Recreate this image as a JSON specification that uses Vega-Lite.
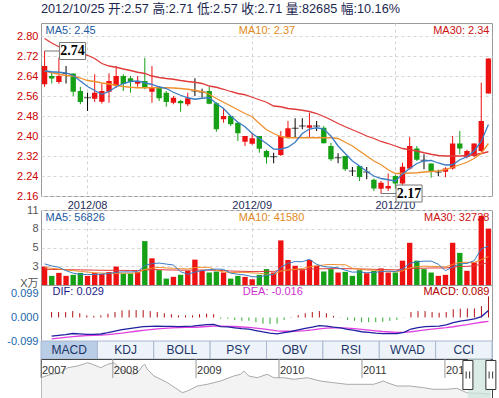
{
"$schema":"https://vega.github.io/schema/vega-lite/v6.json",
"padding":{"left":6,"top":2,"right":0,"bottom":0},
"background":"white",
"config":{"font":"Liberation Sans","view":{"stroke":"#9a9a9a"},"axis":{"ticks":false,"domain":false,"title":null,"labelOverlap":false,"labelBound":false,"gridColor":"#d4d4d4","gridDash":[3,3],"labelFont":"Liberation Sans","labelFontSize":11}},
"datasets":{
"k":[
{"d":"2012-07-24","o":2.607,"h":2.74,"l":2.597,"c":2.68,"dir":"up","v":2.70,"ma5":2.66,"ma10":2.66,"ma30":2.79,"vma5":3.1,"vma10":2.55,"vma30":2.3,"dif":-0.0785,"dea":-0.090,"m":0.023},
{"d":"2012-07-25","o":2.64,"h":2.653,"l":2.61,"c":2.63,"dir":"down","v":1.34,"ma5":2.657,"ma10":2.653,"ma30":2.772,"vma5":2.8,"vma10":2.45,"vma30":2.28,"dif":-0.0755,"dea":-0.087,"m":0.023},
{"d":"2012-07-26","o":2.616,"h":2.713,"l":2.609,"c":2.64,"dir":"up","v":1.78,"ma5":2.655,"ma10":2.647,"ma30":2.757,"vma5":2.6,"vma10":2.35,"vma30":2.27,"dif":-0.0725,"dea":-0.084,"m":0.023},
{"d":"2012-07-27","o":2.65,"h":2.68,"l":2.61,"c":2.65,"dir":"up","v":1.34,"ma5":2.652,"ma10":2.642,"ma30":2.745,"vma5":2.1,"vma10":2.2,"vma30":2.25,"dif":-0.0675,"dea":-0.081,"m":0.027},
{"d":"2012-07-30","o":2.65,"h":2.65,"l":2.56,"c":2.577,"dir":"down","v":1.49,"ma5":2.642,"ma10":2.64,"ma30":2.737,"vma5":1.73,"vma10":2.1,"vma30":2.23,"dif":-0.069,"dea":-0.078,"m":0.018},
{"d":"2012-07-31","o":2.58,"h":2.597,"l":2.527,"c":2.536,"dir":"down","v":1.78,"ma5":2.62,"ma10":2.632,"ma30":2.73,"vma5":1.55,"vma10":2.0,"vma30":2.22,"dif":-0.0715,"dea":-0.076,"m":0.009},
{"d":"2012-08-01","o":2.553,"h":2.573,"l":2.50,"c":2.553,"dir":"up","v":1.34,"ma5":2.598,"ma10":2.622,"ma30":2.723,"vma5":1.55,"vma10":1.9,"vma30":2.2,"dif":-0.0715,"dea":-0.075,"m":0.007},
{"d":"2012-08-02","o":2.549,"h":2.647,"l":2.536,"c":2.573,"dir":"up","v":1.75,"ma5":2.582,"ma10":2.618,"ma30":2.71,"vma5":1.54,"vma10":1.8,"vma30":2.18,"dif":-0.0695,"dea":-0.074,"m":0.009},
{"d":"2012-08-03","o":2.537,"h":2.61,"l":2.53,"c":2.58,"dir":"up","v":1.63,"ma5":2.567,"ma10":2.612,"ma30":2.69,"vma5":1.60,"vma10":1.75,"vma30":2.16,"dif":-0.064,"dea":-0.072,"m":0.016},
{"d":"2012-08-06","o":2.577,"h":2.651,"l":2.533,"c":2.62,"dir":"up","v":1.9,"ma5":2.578,"ma10":2.608,"ma30":2.68,"vma5":1.68,"vma10":1.71,"vma30":2.15,"dif":-0.0575,"dea":-0.069,"m":0.023},
{"d":"2012-08-07","o":2.60,"h":2.68,"l":2.593,"c":2.64,"dir":"up","v":2.7,"ma5":2.597,"ma10":2.603,"ma30":2.675,"vma5":1.86,"vma10":1.71,"vma30":2.15,"dif":-0.051,"dea":-0.066,"m":0.030},
{"d":"2012-08-08","o":2.64,"h":2.647,"l":2.58,"c":2.608,"dir":"down","v":1.68,"ma5":2.61,"ma10":2.598,"ma30":2.668,"vma5":1.93,"vma10":1.74,"vma30":2.14,"dif":-0.0465,"dea":-0.062,"m":0.031},
{"d":"2012-08-09","o":2.631,"h":2.64,"l":2.573,"c":2.617,"dir":"down","v":1.68,"ma5":2.618,"ma10":2.595,"ma30":2.662,"vma5":1.92,"vma10":1.73,"vma30":2.13,"dif":-0.0425,"dea":-0.058,"m":0.031},
{"d":"2012-08-10","o":2.609,"h":2.64,"l":2.597,"c":2.62,"dir":"up","v":1.9,"ma5":2.62,"ma10":2.593,"ma30":2.655,"vma5":1.97,"vma10":1.79,"vma30":2.12,"dif":-0.0385,"dea":-0.054,"m":0.031},
{"d":"2012-08-13","o":2.62,"h":2.713,"l":2.587,"c":2.593,"dir":"down","v":6.44,"ma5":2.613,"ma10":2.593,"ma30":2.65,"vma5":2.88,"vma10":2.28,"vma30":2.2,"dif":-0.0375,"dea":-0.051,"m":0.027},
{"d":"2012-08-14","o":2.577,"h":2.68,"l":2.533,"c":2.593,"dir":"up","v":3.91,"ma5":2.606,"ma10":2.593,"ma30":2.64,"vma5":3.12,"vma10":2.49,"vma30":2.25,"dif":-0.0365,"dea":-0.048,"m":0.023},
{"d":"2012-08-15","o":2.593,"h":2.60,"l":2.54,"c":2.551,"dir":"down","v":2.18,"ma5":2.597,"ma10":2.593,"ma30":2.634,"vma5":3.22,"vma10":2.58,"vma30":2.25,"dif":-0.037,"dea":-0.046,"m":0.018},
{"d":"2012-08-16","o":2.573,"h":2.58,"l":2.517,"c":2.536,"dir":"down","v":0.94,"ma5":2.59,"ma10":2.593,"ma30":2.63,"vma5":3.07,"vma10":2.50,"vma30":2.22,"dif":-0.037,"dea":-0.044,"m":0.014},
{"d":"2012-08-17","o":2.533,"h":2.56,"l":2.527,"c":2.553,"dir":"up","v":1.2,"ma5":2.575,"ma10":2.592,"ma30":2.627,"vma5":2.93,"vma10":2.45,"vma30":2.2,"dif":-0.0385,"dea":-0.043,"m":0.009},
{"d":"2012-08-20","o":2.54,"h":2.545,"l":2.497,"c":2.531,"dir":"down","v":1.5,"ma5":2.563,"ma10":2.59,"ma30":2.622,"vma5":1.95,"vma10":2.41,"vma30":2.18,"dif":-0.0375,"dea":-0.042,"m":0.009},
{"d":"2012-08-21","o":2.527,"h":2.573,"l":2.52,"c":2.551,"dir":"up","v":2.08,"ma5":2.553,"ma10":2.587,"ma30":2.618,"vma5":1.58,"vma10":2.35,"vma30":2.17,"dif":-0.0365,"dea":-0.041,"m":0.009},
{"d":"2012-08-22","o":2.58,"h":2.631,"l":2.56,"c":2.58,"dir":"up","v":3.72,"ma5":2.547,"ma10":2.583,"ma30":2.615,"vma5":1.89,"vma10":2.56,"vma30":2.2,"dif":-0.033,"dea":-0.040,"m":0.014},
{"d":"2012-08-23","o":2.576,"h":2.589,"l":2.553,"c":2.576,"dir":"up","v":2.08,"ma5":2.551,"ma10":2.577,"ma30":2.61,"vma5":2.12,"vma10":2.60,"vma30":2.2,"dif":-0.030,"dea":-0.038,"m":0.016},
{"d":"2012-08-24","o":2.58,"h":2.597,"l":2.527,"c":2.529,"dir":"down","v":1.83,"ma5":2.553,"ma10":2.567,"ma30":2.60,"vma5":2.24,"vma10":2.59,"vma30":2.18,"dif":-0.029,"dea":-0.036,"m":0.014},
{"d":"2012-08-27","o":2.531,"h":2.535,"l":2.417,"c":2.427,"dir":"down","v":1.98,"ma5":2.53,"ma10":2.55,"ma30":2.595,"vma5":2.34,"vma10":2.14,"vma30":2.15,"dif":-0.0385,"dea":-0.036,"m":-0.005},
{"d":"2012-08-28","o":2.467,"h":2.513,"l":2.453,"c":2.48,"dir":"up","v":1.83,"ma5":2.51,"ma10":2.535,"ma30":2.587,"vma5":2.29,"vma10":1.93,"vma30":2.12,"dif":-0.0395,"dea":-0.037,"m":-0.005},
{"d":"2012-08-29","o":2.48,"h":2.48,"l":2.44,"c":2.447,"dir":"down","v":0.94,"ma5":2.48,"ma10":2.52,"ma30":2.578,"vma5":1.73,"vma10":1.81,"vma30":2.05,"dif":-0.0435,"dea":-0.038,"m":-0.011},
{"d":"2012-08-30","o":2.453,"h":2.455,"l":2.38,"c":2.411,"dir":"down","v":1.34,"ma5":2.455,"ma10":2.505,"ma30":2.57,"vma5":1.58,"vma10":1.85,"vma30":2.02,"dif":-0.047,"dea":-0.040,"m":-0.014},
{"d":"2012-08-31","o":2.377,"h":2.40,"l":2.36,"c":2.40,"dir":"up","v":1.19,"ma5":2.437,"ma10":2.49,"ma30":2.565,"vma5":1.46,"vma10":1.85,"vma30":2.0,"dif":-0.049,"dea":-0.042,"m":-0.014},
{"d":"2012-09-03","o":2.369,"h":2.411,"l":2.365,"c":2.391,"dir":"up","v":0.84,"ma5":2.41,"ma10":2.477,"ma30":2.555,"vma5":1.23,"vma10":1.78,"vma30":1.97,"dif":-0.055,"dea":-0.045,"m":-0.02},
{"d":"2012-09-04","o":2.40,"h":2.40,"l":2.333,"c":2.349,"dir":"down","v":1.49,"ma5":2.39,"ma10":2.45,"ma30":2.545,"vma5":1.16,"vma10":1.72,"vma30":1.97,"dif":-0.061,"dea":-0.048,"m":-0.026},
{"d":"2012-09-05","o":2.34,"h":2.345,"l":2.29,"c":2.315,"dir":"down","v":2.33,"ma5":2.37,"ma10":2.425,"ma30":2.535,"vma5":1.44,"vma10":1.59,"vma30":2.0,"dif":-0.066,"dea":-0.052,"m":-0.028},
{"d":"2012-09-06","o":2.317,"h":2.333,"l":2.291,"c":2.317,"dir":"up","v":1.83,"ma5":2.348,"ma10":2.41,"ma30":2.52,"vma5":1.54,"vma10":1.56,"vma30":2.0,"dif":-0.069,"dea":-0.056,"m":-0.026},
{"d":"2012-09-07","o":2.324,"h":2.42,"l":2.32,"c":2.40,"dir":"up","v":6.54,"ma5":2.347,"ma10":2.398,"ma30":2.517,"vma5":2.61,"vma10":2.03,"vma30":2.15,"dif":-0.0635,"dea":-0.058,"m":-0.011},
{"d":"2012-09-10","o":2.393,"h":2.46,"l":2.39,"c":2.431,"dir":"up","v":3.67,"ma5":2.355,"ma10":2.393,"ma30":2.51,"vma5":3.17,"vma10":2.20,"vma30":2.2,"dif":-0.059,"dea":-0.058,"m":-0.002},
{"d":"2012-09-11","o":2.431,"h":2.471,"l":2.393,"c":2.431,"dir":"up","v":2.82,"ma5":2.375,"ma10":2.393,"ma30":2.507,"vma5":3.44,"vma10":2.30,"vma30":2.25,"dif":-0.052,"dea":-0.057,"m":0.01},
{"d":"2012-09-12","o":2.44,"h":2.471,"l":2.427,"c":2.44,"dir":"up","v":2.18,"ma5":2.41,"ma10":2.393,"ma30":2.503,"vma5":3.41,"vma10":2.42,"vma30":2.27,"dif":-0.046,"dea":-0.055,"m":0.018},
{"d":"2012-09-13","o":2.433,"h":2.493,"l":2.393,"c":2.443,"dir":"up","v":3.67,"ma5":2.428,"ma10":2.393,"ma30":2.498,"vma5":3.78,"vma10":2.66,"vma30":2.33,"dif":-0.0405,"dea":-0.052,"m":0.023},
{"d":"2012-09-14","o":2.44,"h":2.46,"l":2.42,"c":2.44,"dir":"up","v":2.82,"ma5":2.433,"ma10":2.393,"ma30":2.49,"vma5":3.03,"vma10":2.82,"vma30":2.37,"dif":-0.0345,"dea":-0.048,"m":0.027},
{"d":"2012-09-17","o":2.433,"h":2.44,"l":2.37,"c":2.371,"dir":"down","v":1.98,"ma5":2.428,"ma10":2.393,"ma30":2.478,"vma5":2.69,"vma10":2.93,"vma30":2.38,"dif":-0.036,"dea":-0.045,"m":0.018},
{"d":"2012-09-18","o":2.36,"h":2.373,"l":2.30,"c":2.307,"dir":"down","v":2.33,"ma5":2.40,"ma10":2.393,"ma30":2.465,"vma5":2.60,"vma10":3.02,"vma30":2.4,"dif":-0.0405,"dea":-0.044,"m":0.007},
{"d":"2012-09-19","o":2.313,"h":2.331,"l":2.291,"c":2.313,"dir":"up","v":1.83,"ma5":2.36,"ma10":2.39,"ma30":2.45,"vma5":2.53,"vma10":2.97,"vma30":2.4,"dif":-0.0435,"dea":-0.044,"m":0.001},
{"d":"2012-09-20","o":2.32,"h":2.32,"l":2.26,"c":2.267,"dir":"down","v":1.93,"ma5":2.33,"ma10":2.375,"ma30":2.437,"vma5":2.18,"vma10":2.98,"vma30":2.4,"dif":-0.050,"dea":-0.045,"m":-0.01},
{"d":"2012-09-21","o":2.26,"h":2.276,"l":2.24,"c":2.26,"dir":"down","v":1.34,"ma5":2.30,"ma10":2.36,"ma30":2.425,"vma5":1.88,"vma10":2.46,"vma30":2.38,"dif":-0.054,"dea":-0.047,"m":-0.014},
{"d":"2012-09-24","o":2.28,"h":2.28,"l":2.22,"c":2.236,"dir":"down","v":2.18,"ma5":2.28,"ma10":2.34,"ma30":2.413,"vma5":1.92,"vma10":2.31,"vma30":2.36,"dif":-0.060,"dea":-0.050,"m":-0.02},
{"d":"2012-09-25","o":2.256,"h":2.276,"l":2.227,"c":2.256,"dir":"up","v":1.73,"ma5":2.258,"ma10":2.32,"ma30":2.40,"vma5":1.80,"vma10":2.20,"vma30":2.33,"dif":-0.063,"dea":-0.053,"m":-0.02},
{"d":"2012-09-26","o":2.225,"h":2.23,"l":2.18,"c":2.19,"dir":"down","v":2.08,"ma5":2.24,"ma10":2.30,"ma30":2.39,"vma5":1.85,"vma10":2.19,"vma30":2.3,"dif":-0.066,"dea":-0.056,"m":-0.02},
{"d":"2012-09-27","o":2.189,"h":2.22,"l":2.17,"c":2.213,"dir":"up","v":2.43,"ma5":2.23,"ma10":2.285,"ma30":2.378,"vma5":1.95,"vma10":2.07,"vma30":2.28,"dif":-0.068,"dea":-0.059,"m":-0.018},
{"d":"2012-09-28","o":2.19,"h":2.25,"l":2.18,"c":2.20,"dir":"up","v":1.83,"ma5":2.225,"ma10":2.265,"ma30":2.37,"vma5":2.05,"vma10":1.97,"vma30":2.25,"dif":-0.068,"dea":-0.061,"m":-0.014},
{"d":"2012-10-08","o":2.24,"h":2.245,"l":2.19,"c":2.21,"dir":"down","v":1.83,"ma5":2.22,"ma10":2.25,"ma30":2.36,"vma5":1.98,"vma10":1.95,"vma30":2.22,"dif":-0.068,"dea":-0.063,"m":-0.01},
{"d":"2012-10-09","o":2.21,"h":2.293,"l":2.205,"c":2.277,"dir":"up","v":3.57,"ma5":2.248,"ma10":2.25,"ma30":2.35,"vma5":2.35,"vma10":2.08,"vma30":2.28,"dif":-0.0625,"dea":-0.063,"m":0.001},
{"d":"2012-10-10","o":2.27,"h":2.396,"l":2.265,"c":2.36,"dir":"up","v":6.19,"ma5":2.27,"ma10":2.252,"ma30":2.345,"vma5":3.17,"vma10":2.51,"vma30":2.4,"dif":-0.0485,"dea":-0.060,"m":0.023},
{"d":"2012-10-11","o":2.35,"h":2.36,"l":2.30,"c":2.305,"dir":"down","v":3.57,"ma5":2.29,"ma10":2.253,"ma30":2.34,"vma5":3.40,"vma10":2.68,"vma30":2.45,"dif":-0.0425,"dea":-0.056,"m":0.027},
{"d":"2012-10-12","o":2.303,"h":2.327,"l":2.267,"c":2.303,"dir":"down","v":2.33,"ma5":2.30,"ma10":2.256,"ma30":2.333,"vma5":3.50,"vma10":2.77,"vma30":2.47,"dif":-0.0385,"dea":-0.052,"m":0.027},
{"d":"2012-10-15","o":2.29,"h":2.29,"l":2.233,"c":2.26,"dir":"down","v":1.83,"ma5":2.302,"ma10":2.258,"ma30":2.327,"vma5":3.50,"vma10":2.74,"vma30":2.5,"dif":-0.0375,"dea":-0.049,"m":0.023},
{"d":"2012-10-16","o":2.256,"h":2.265,"l":2.24,"c":2.256,"dir":"up","v":1.34,"ma5":2.292,"ma10":2.26,"ma30":2.322,"vma5":3.05,"vma10":2.70,"vma30":2.5,"dif":-0.036,"dea":-0.046,"m":0.02},
{"d":"2012-10-17","o":2.257,"h":2.275,"l":2.235,"c":2.27,"dir":"up","v":1.49,"ma5":2.284,"ma10":2.266,"ma30":2.32,"vma5":2.11,"vma10":2.64,"vma30":2.5,"dif":-0.0315,"dea":-0.043,"m":0.023},
{"d":"2012-10-18","o":2.27,"h":2.40,"l":2.265,"c":2.37,"dir":"up","v":6.19,"ma5":2.285,"ma10":2.275,"ma30":2.32,"vma5":2.64,"vma10":3.02,"vma30":2.62,"dif":-0.0215,"dea":-0.039,"m":0.035},
{"d":"2012-10-19","o":2.37,"h":2.42,"l":2.327,"c":2.35,"dir":"down","v":4.71,"ma5":2.305,"ma10":2.285,"ma30":2.32,"vma5":3.11,"vma10":3.31,"vma30":2.7,"dif":-0.0155,"dea":-0.034,"m":0.037},
{"d":"2012-10-22","o":2.316,"h":2.345,"l":2.31,"c":2.34,"dir":"up","v":2.08,"ma5":2.317,"ma10":2.295,"ma30":2.322,"vma5":3.16,"vma10":3.33,"vma30":2.74,"dif":-0.011,"dea":-0.030,"m":0.038},
{"d":"2012-10-23","o":2.32,"h":2.37,"l":2.315,"c":2.37,"dir":"up","v":3.32,"ma5":2.34,"ma10":2.31,"ma30":2.325,"vma5":3.56,"vma10":3.31,"vma30":2.8,"dif":-0.006,"dea":-0.025,"m":0.038},
{"d":"2012-10-24","o":2.34,"h":2.613,"l":2.335,"c":2.46,"dir":"up","v":10.15,"ma5":2.378,"ma10":2.33,"ma30":2.33,"vma5":5.29,"vma10":3.70,"vma30":3.07,"dif":0.004,"dea":-0.020,"m":0.048},
{"d":"2012-10-25","o":2.57,"h":2.71,"l":2.57,"c":2.71,"dir":"up","v":8.27,"ma5":2.446,"ma10":2.37,"ma30":2.337,"vma5":5.70,"vma10":4.17,"vma30":3.27,"dif":0.029,"dea":-0.016,"m":0.089}
],
"nav":[
{"d":"2007-02-19","p":7.24},{"d":"2007-04-04","p":8.32},{"d":"2007-05-18","p":8.83},{"d":"2007-06-16","p":10.41},{"d":"2007-07-30","p":10.95},{"d":"2007-09-12","p":12.0},{"d":"2007-10-04","p":11.49},{"d":"2007-11-09","p":10.41},{"d":"2007-12-09","p":11.49},{"d":"2008-01-07","p":12.0},{"d":"2008-02-05","p":9.91},{"d":"2008-03-06","p":8.83},{"d":"2008-04-04","p":8.32},{"d":"2008-04-25","p":9.37},{"d":"2008-05-10","p":10.95},{"d":"2008-05-20","p":11.49},{"d":"2008-06-01","p":9.91},{"d":"2008-06-30","p":7.78},{"d":"2008-07-30","p":6.74},{"d":"2008-08-28","p":5.66},{"d":"2008-10-11","p":3.57},{"d":"2008-11-02","p":2.49},{"d":"2008-11-24","p":3.03},{"d":"2009-01-07","p":4.61},{"d":"2009-02-20","p":5.15},{"d":"2009-04-19","p":6.2},{"d":"2009-06-16","p":7.78},{"d":"2009-07-16","p":8.32},{"d":"2009-07-30","p":9.37},{"d":"2009-08-21","p":7.78},{"d":"2009-09-27","p":7.24},{"d":"2009-11-10","p":8.32},{"d":"2009-12-09","p":7.24},{"d":"2010-01-22","p":7.24},{"d":"2010-03-07","p":6.74},{"d":"2010-05-05","p":7.24},{"d":"2010-07-02","p":6.2},{"d":"2010-08-29","p":5.66},{"d":"2010-10-27","p":5.15},{"d":"2010-12-24","p":5.15},{"d":"2011-02-21","p":5.15},{"d":"2011-04-06","p":6.2},{"d":"2011-04-21","p":5.66},{"d":"2011-06-04","p":4.61},{"d":"2011-08-01","p":4.61},{"d":"2011-09-28","p":4.08},{"d":"2011-11-11","p":3.57},{"d":"2012-01-09","p":3.57},{"d":"2012-02-22","p":3.88},{"d":"2012-04-06","p":2.49},{"d":"2012-06-03","p":2.3},{"d":"2012-07-17","p":1.98}
]
},
"spacing":14,
"bounds":"flush",
"vconcat":[
{
"width":451,"height":173,
"title":{"text":"2012/10/25 开:2.57 高:2.71 低:2.57 收:2.71 量:82685 幅:10.16%","anchor":"start","frame":"group","fontSize":12.7,"fontWeight":"normal","color":"#1b2750","font":"Liberation Sans, Noto Sans CJK SC","offset":7},
"data":{"name":"k"},
"encoding":{"x":{"field":"d","type":"ordinal","scale":{"paddingInner":0.25,"paddingOuter":0.125},"axis":{"values":["2012-08-01","2012-09-03","2012-10-08"],"labelExpr":"replace(slice(datum.value,0,7),'-','/')","labelColor":"#1e2c5a","labelAngle":0,"labelPadding":3,"grid":true,"bandPosition":0.5}}},
"layer":[
{"mark":{"type":"rule","strokeWidth":1},"encoding":{"y":{"field":"l","type":"quantitative","scale":{"domain":[2.16,2.852],"nice":false,"zero":false},"axis":{"values":[2.16,2.24,2.32,2.40,2.48,2.56,2.64,2.72,2.80],"tickCount":20,"labelOverlap":false,"format":".2f","labelColor":"#cc0000","labelPadding":3,"grid":true}},"y2":{"field":"h"},"color":{"condition":[{"test":"datum.o==datum.c","value":"#000000"},{"test":"datum.c>datum.o","value":"#ee1111"}],"value":"#15a015"}}},
{"transform":[{"filter":"datum.o != datum.c"}],"mark":{"type":"bar"},"encoding":{"y":{"field":"o","type":"quantitative"},"y2":{"field":"c"},"color":{"condition":{"test":"datum.c>datum.o","value":"#ee1111"},"value":"#15a015"}}},
{"transform":[{"filter":"datum.o == datum.c"}],"mark":{"type":"tick","thickness":1,"size":7,"color":"#000000"},"encoding":{"y":{"field":"o","type":"quantitative"}}},
{"mark":{"type":"line","color":"#e03a3a","strokeWidth":1.3},"encoding":{"y":{"field":"ma30","type":"quantitative"}}},
{"mark":{"type":"line","color":"#f0902e","strokeWidth":1.3},"encoding":{"y":{"field":"ma10","type":"quantitative"}}},
{"mark":{"type":"line","color":"#3a7cc4","strokeWidth":1.3},"encoding":{"y":{"field":"ma5","type":"quantitative"}}},
{"data":{"values":[{"d":"2012-07-24","p":2.74},{"d":"2012-09-27","p":2.17}]},"layer":[
{"mark":{"type":"point","shape":"M0,0L1.5,0M1.5,-0.85L4.1,-0.85L4.1,0.85L1.5,0.85Z","size":400,"filled":true,"fill":"white","fillOpacity":1,"opacity":1,"stroke":"#777777","strokeWidth":1},"encoding":{"y":{"field":"p","type":"quantitative"}}},
{"mark":{"type":"text","dx":28,"font":"Liberation Serif","fontWeight":"bold","fontSize":14,"color":"#000000","baseline":"middle"},"encoding":{"y":{"field":"p","type":"quantitative"},"text":{"field":"p","type":"quantitative","format":".2f"}}}
]},
{"data":{"values":[{"d":"2012-07-24","t":"MA5: 2.45","s":"a"},{"d":"2012-08-30","t":"MA10: 2.37","s":"b"}]},"mark":{"type":"text","align":"left","baseline":"top","dx":1,"dy":2,"fontSize":11},"encoding":{"y":{"datum":2.852},"text":{"field":"t"},"color":{"condition":{"test":"datum.s=='a'","value":"#1e5aa0"},"value":"#e08a1e"}}},
{"data":{"values":[{"d":"2012-10-25","t":"MA30: 2.34"}]},"mark":{"type":"text","align":"right","baseline":"top","dx":1,"dy":2,"fontSize":11,"color":"#cc1111"},"encoding":{"y":{"datum":2.852},"text":{"field":"t"}}}
]
},
{
"spacing":0,
"bounds":"flush",
"vconcat":[
{
"width":451,"height":75,
"data":{"name":"k"},
"encoding":{"x":{"field":"d","type":"ordinal","scale":{"paddingInner":0.25,"paddingOuter":0.125},"axis":{"values":["2012-08-01","2012-09-03","2012-10-08"],"labels":false,"grid":true,"bandPosition":0.5}}},
"layer":[
{"mark":{"type":"bar"},"encoding":{"y":{"field":"v","type":"quantitative","scale":{"domain":[0,11],"nice":false},"axis":{"values":[2.75,5.5,8.25,11],"tickCount":20,"labelOverlap":false,"labelExpr":"floor(datum.value+0.3)","labelColor":"#555555","labelPadding":3,"grid":true,"title":"X万","titleAngle":0,"titleX":-3,"titleY":78,"titleAlign":"right","titleBaseline":"bottom","titleFontSize":11,"titleFontWeight":"normal","titleColor":"#555555","titleFont":"Liberation Sans, Noto Sans CJK SC"}},"color":{"condition":{"test":"datum.dir=='up'","value":"#ee1111"},"value":"#15a015"}}},
{"mark":{"type":"line","color":"#e03a3a","strokeWidth":1},"encoding":{"y":{"field":"vma30","type":"quantitative"}}},
{"mark":{"type":"line","color":"#f0902e","strokeWidth":1},"encoding":{"y":{"field":"vma10","type":"quantitative"}}},
{"mark":{"type":"line","color":"#3a7cc4","strokeWidth":1},"encoding":{"y":{"field":"vma5","type":"quantitative"}}},
{"data":{"values":[{"d":"2012-07-24","t":"MA5: 56826","s":"a"},{"d":"2012-08-30","t":"MA10: 41580","s":"b"}]},"mark":{"type":"text","align":"left","baseline":"top","dx":1,"dy":2,"fontSize":11},"encoding":{"y":{"datum":11},"text":{"field":"t"},"color":{"condition":{"test":"datum.s=='a'","value":"#1e5aa0"},"value":"#e08a1e"}}},
{"data":{"values":[{"d":"2012-10-25","t":"MA30: 32738"}]},"mark":{"type":"text","align":"right","baseline":"top","dx":1,"dy":2,"fontSize":11,"color":"#cc1111"},"encoding":{"y":{"datum":11},"text":{"field":"t"}}}
]
},
{
"width":451,"height":56,
"data":{"name":"k"},
"encoding":{"x":{"field":"d","type":"ordinal","scale":{"paddingInner":0.25,"paddingOuter":0.125},"axis":null}},
"layer":[
{"mark":{"type":"rule","strokeWidth":1},"encoding":{"y":{"field":"m","type":"quantitative","scale":{"domain":[-0.099,0.1369],"nice":false,"zero":false},"axis":{"values":[-0.099,0,0.099],"tickCount":20,"labelOverlap":false,"labelExpr":"replace(format(datum.value,'.3f'),'\u2212','-')","labelColor":"#1a66aa","labelPadding":3,"grid":false}},"y2":{"datum":0},"color":{"condition":{"test":"datum.m>0","value":"#b01010"},"value":"#33aa33"}}},
{"data":{"values":[{"z":0}]},"mark":{"type":"rule","color":"#c8c8c8","strokeDash":[3,3]},"encoding":{"y":{"field":"z","type":"quantitative"}}},
{"mark":{"type":"line","color":"#e040e0","strokeWidth":1.3},"encoding":{"y":{"field":"dea","type":"quantitative"}}},
{"mark":{"type":"line","color":"#2020a0","strokeWidth":1.3},"encoding":{"y":{"field":"dif","type":"quantitative"}}},
{"data":{"values":[{"d":"2012-07-24","t":"DIF: 0.029","s":"a"},{"d":"2012-08-30","t":"DEA: -0.016","s":"b"}]},"mark":{"type":"text","align":"left","baseline":"top","dx":1,"dy":1,"fontSize":11},"encoding":{"y":{"datum":0.1369},"text":{"field":"t"},"color":{"condition":{"test":"datum.s=='a'","value":"#1a1a8a"},"value":"#d030d0"}}},
{"data":{"values":[{"d":"2012-10-25","t":"MACD: 0.089"}]},"mark":{"type":"text","align":"right","baseline":"top","dx":1,"dy":1,"fontSize":11,"color":"#b00000"},"encoding":{"y":{"datum":0.1369},"text":{"field":"t"}}}
]
},
{
"width":451,"height":18,
"view":{"stroke":"#a5b5cc"},
"data":{"values":[{"tab":"MACD"},{"tab":"KDJ"},{"tab":"BOLL"},{"tab":"PSY"},{"tab":"OBV"},{"tab":"RSI"},{"tab":"WVAD"},{"tab":"CCI"}]},
"encoding":{"x":{"field":"tab","type":"nominal","sort":null,"scale":{"paddingInner":0,"paddingOuter":0},"axis":null}},
"layer":[
{"mark":{"type":"bar","stroke":"#a8b8d0","strokeWidth":1},"encoding":{"color":{"condition":{"test":"datum.tab=='MACD'","value":"#b9cde6"},"value":"#eef3fa"}}},
{"mark":{"type":"text","fontSize":12,"color":"#1a3466"},"encoding":{"text":{"field":"tab"}}}
]
},
{
"width":451,"height":39,
"view":{"stroke":"#444444"},
"layer":[
{"data":{"name":"nav"},"mark":{"type":"area","color":"#eeeeee","line":{"color":"#aaaaaa","strokeWidth":1}},"encoding":{"x":{"field":"d","type":"temporal","scale":{"domain":["2007-02-19","2012-07-26"]},"axis":null},"y":{"field":"p","type":"quantitative","scale":{"domain":[0.81,13.17],"nice":false,"zero":false},"axis":null}}},
{"data":{"values":[{"d":"2012-04-11","e":"2012-07-21"}]},"mark":{"type":"rect","color":"#cfe5de","opacity":0.75},"encoding":{"x":{"field":"d","type":"temporal"},"x2":{"field":"e"}}},
{"data":{"values":[{"d":"2007-02-19"},{"d":"2008-01-01"},{"d":"2009-01-01"},{"d":"2010-01-01"},{"d":"2011-01-01"},{"d":"2012-01-01"}]},"layer":[
{"mark":{"type":"rule","color":"#999999"},"encoding":{"x":{"field":"d","type":"temporal"},"y":{"datum":13.17},"y2":{"datum":7.15}}},
{"mark":{"type":"text","align":"left","dx":1,"fontSize":11,"color":"#333333"},"encoding":{"x":{"field":"d","type":"temporal"},"y":{"datum":9.37},"text":{"field":"d","type":"temporal","format":"%Y"}}}
]},
{"data":{"values":[{"d":"2012-04-11"},{"d":"2012-07-21"}]},"mark":{"type":"point","shape":"M-1,-2.9L1,-2.9L1,2.9L-1,2.9ZM-0.35,-0.7L-0.35,0.7M0.35,-0.7L0.35,0.7","size":100,"filled":true,"fill":"white","fillOpacity":1,"opacity":1,"stroke":"#333333","strokeWidth":1},"encoding":{"x":{"field":"d","type":"temporal"},"y":{"datum":8.1}}}
]
}
]
}
]
}
